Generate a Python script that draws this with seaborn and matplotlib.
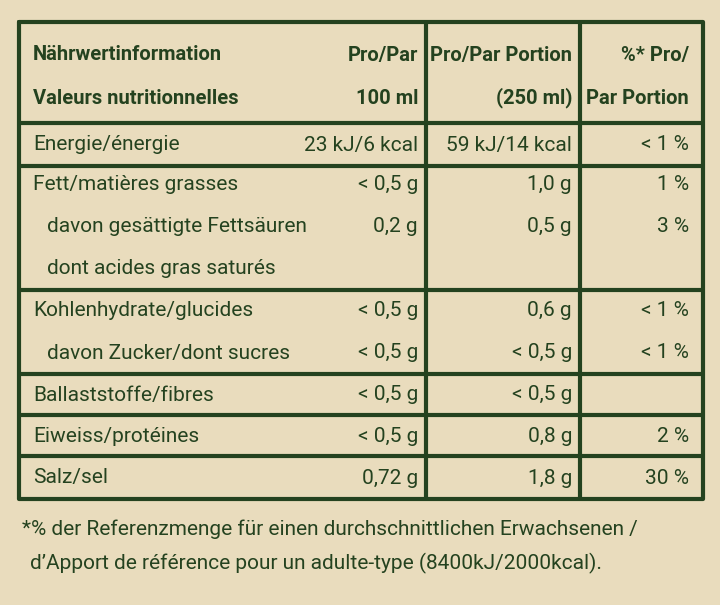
import matplotlib
matplotlib.use("Agg")
import matplotlib.pyplot as plt
import seaborn as sns
from matplotlib import font_manager as fm

sns.set_theme(style="white")

labels = ["Energie/énergie", "Fett/matières grasses", "davon gesättigte Fettsäuren",
          "dont acides gras saturés", "Kohlenhydrate/glucides", "davon Zucker/dont sucres",
          "Ballaststoffe/fibres", "Eiweiss/protéines", "Salz/sel"]
indent = [0, 0, 1, 1, 0, 1, 0, 0, 0]
per100 = ["23 kJ/6 kcal", "< 0,5 g", "0,2 g", "", "< 0,5 g", "< 0,5 g", "< 0,5 g", "< 0,5 g", "0,72 g"]
perPortion = ["59 kJ/14 kcal", "1,0 g", "0,5 g", "", "0,6 g", "< 0,5 g", "< 0,5 g", "0,8 g", "1,8 g"]
pct = ["< 1 %", "1 %", "3 %", "", "< 1 %", "< 1 %", "", "2 %", "30 %"]
header1 = ["Nährwertinformation", "Pro/Par", "Pro/Par Portion", "%* Pro/"]
header2 = ["Valeurs nutritionnelles", "100 ml", "(250 ml)", "Par Portion"]
footnote = ["*% der Referenzmenge für einen durchschnittlichen Erwachsenen /",
            "d’Apport de référence pour un adulte-type (8400kJ/2000kcal)."]

avail = {f.name for f in fm.fontManager.ttflist}
fam = "Liberation Sans Narrow" if "Liberation Sans Narrow" in avail else "Roboto"
plt.rcParams["font.family"] = fam

green = "#24421f"
fig = plt.figure(figsize=(7.2, 6.05), dpi=100)
fig.patch.set_facecolor("#e9dcbd")
ax = fig.add_axes([0, 0, 1, 1])
ax.set_xlim(0, 720); ax.set_ylim(605, 0); ax.axis("off")
ax.set_facecolor("#e9dcbd")

L, R, T, B = 19, 703, 22, 499
lw = 3
ax.plot([L, R, R, L, L], [T, T, B, B, T], color=green, lw=lw)
for x in [426, 580]:
    ax.plot([x, x], [T, B], color=green, lw=lw)
for y in [123, 166, 290, 374, 415, 456]:
    ax.plot([L, R], [y, y], color=green, lw=lw)

fs = 15
hfs = 14.5
colx = [33, 418, 572, 689]
for i, (h1, h2) in enumerate(zip(header1, header2)):
    ha = "left" if i == 0 else "right"
    ax.text(colx[i], 55, h1, ha=ha, va="center", fontsize=hfs, fontweight="bold", color=green)
    ax.text(colx[i], 98, h2, ha=ha, va="center", fontsize=hfs, fontweight="bold", color=green)

ys = [145, 185, 227, 268, 311, 353, 395, 436, 478]
for y, lab, ind, a, b, c in zip(ys, labels, indent, per100, perPortion, pct):
    ax.text(33 + 14 * ind, y, lab, ha="left", va="center", fontsize=fs, color=green)
    ax.text(colx[1], y, a, ha="right", va="center", fontsize=fs, color=green)
    ax.text(colx[2], y, b, ha="right", va="center", fontsize=fs, color=green)
    ax.text(colx[3], y, c, ha="right", va="center", fontsize=fs, color=green)

ax.text(22, 529, footnote[0], ha="left", va="center", fontsize=fs, color=green)
ax.text(30, 563, footnote[1], ha="left", va="center", fontsize=fs, color=green)

fig.savefig("out.png", dpi=100, facecolor=fig.get_facecolor())
